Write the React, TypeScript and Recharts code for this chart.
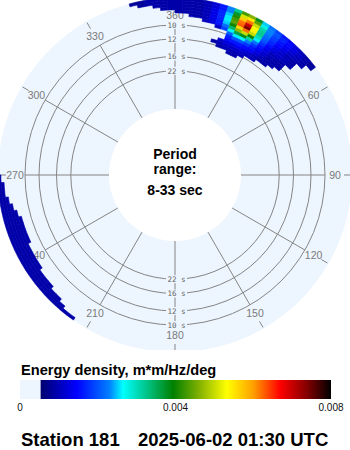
import React from "react"
import { PieChart, Pie, Cell, RadarChart, PolarGrid, PolarAngleAxis, PolarRadiusAxis } from "recharts"

const CX = 175
const CY = 175
const R_IN = 66 // 33 s
const R_GRID = 150 // 10 s
const LIGHT = "#edf5fe"
const GRID = "#858585"
const FONT = "'Liberation Sans', Arial, sans-serif"

// compass labels, clockwise from north
const directions = ["360", "30", "60", "90", "120", "150", "180", "210", "240", "270", "300", "330"]
// period rings (s)
const periodTicks = [22, 16, 12, 10]
const periodRange = [8, 33]

// frequency edges of the spectral bands (Hz), outer ring first
const bandEdges = [0.1225, 0.12, 0.1175, 0.115, 0.1125, 0.11, 0.1075, 0.105, 0.1025, 0.1, 0.0975, 0.095, 0.0925, 0.09, 0.0875, 0.085]
const DIR_STEP = 2.5

// energy density in 1e-4 m*m/Hz/deg, one row per band, columns every 2.5 deg
const neStart = 345
const neEnergy = [
  [8, 8, 9, 9, 9, 9, 9, 9, 9, 9, 10, 12, 16, 23, 32, 43, 46, 38, 25, 22, 19, 16, 14, 12, 10, 9, 8],
  [0, 8, 9, 9, 9, 9, 9, 9, 9, 9, 10, 12, 16, 23, 37, 51, 55, 44, 28, 23, 20, 17, 15, 13, 11, 9, 8],
  [0, 0, 0, 9, 9, 9, 9, 9, 9, 9, 10, 13, 17, 25, 41, 57, 62, 50, 31, 23, 19, 16, 14, 12, 10, 9, 0],
  [0, 0, 0, 0, 9, 9, 9, 9, 9, 9, 10, 13, 17, 26, 43, 62, 70, 53, 32, 22, 18, 15, 13, 11, 10, 9, 0],
  [0, 0, 0, 0, 0, 0, 9, 9, 9, 9, 10, 13, 17, 26, 44, 63, 74, 54, 32, 21, 17, 14, 12, 10, 9, 0, 0],
  [0, 0, 0, 0, 0, 0, 0, 0, 9, 9, 10, 13, 16, 25, 40, 56, 62, 50, 30, 20, 16, 13, 11, 10, 9, 0, 0],
  [0, 0, 0, 0, 0, 0, 0, 0, 0, 0, 10, 12, 16, 22, 34, 47, 50, 40, 26, 18, 14, 12, 11, 10, 9, 0, 0],
  [0, 0, 0, 0, 0, 0, 0, 0, 0, 0, 0, 0, 11, 19, 27, 36, 38, 31, 22, 16, 13, 10, 10, 9, 0, 0, 0],
  [0, 0, 0, 0, 0, 0, 0, 0, 0, 0, 0, 0, 0, 0, 21, 26, 27, 23, 18, 15, 12, 10, 9, 9, 0, 0, 0],
  [0, 0, 0, 0, 0, 0, 0, 0, 0, 0, 0, 0, 0, 0, 17, 20, 20, 18, 16, 13, 11, 9, 9, 9, 0, 0, 0],
  [0, 0, 0, 0, 0, 0, 0, 0, 0, 0, 0, 0, 0, 0, 15, 16, 16, 15, 14, 12, 10, 9, 9, 0, 0, 0, 0],
  [0, 0, 0, 0, 0, 0, 0, 0, 0, 0, 0, 0, 0, 11, 13, 13, 14, 13, 12, 10, 9, 9, 0, 0, 0, 0, 0],
  [0, 0, 0, 0, 0, 0, 0, 0, 0, 0, 0, 0, 9, 10, 11, 11, 11, 11, 10, 10, 0, 0, 0, 0, 0, 0, 0],
  [0, 0, 0, 0, 0, 0, 0, 0, 0, 0, 0, 0, 0, 9, 10, 10, 10, 10, 0, 0, 0, 0, 0, 0, 0, 0, 0],
  [0, 0, 0, 0, 0, 0, 0, 0, 0, 0, 0, 0, 0, 0, 0, 9, 9, 0, 0, 0, 0, 0, 0, 0, 0, 0, 0],
]
const swStart = 215
const swEnergy = [
  [9, 9, 9, 9, 9, 9, 9, 9, 9, 9, 9, 9, 9, 9, 9, 9, 9, 9, 9, 9, 9, 9],
  [0, 0, 9, 9, 9, 9, 9, 9, 9, 9, 9, 9, 9, 9, 9, 9, 9, 9, 9, 9, 9, 0],
  [0, 0, 0, 9, 9, 9, 9, 9, 9, 9, 9, 9, 9, 9, 9, 9, 9, 9, 9, 0, 0, 0],
  [0, 0, 0, 0, 0, 9, 9, 9, 9, 9, 9, 9, 9, 9, 9, 9, 9, 9, 0, 0, 0, 0],
  [0, 0, 0, 0, 0, 0, 0, 0, 9, 9, 9, 9, 9, 9, 9, 9, 9, 0, 0, 0, 0, 0],
  [0, 0, 0, 0, 0, 0, 0, 0, 0, 0, 0, 0, 9, 9, 9, 9, 0, 0, 0, 0, 0, 0],
]

// colour scale, same units
const SCALE_MAX = 80
const scaleStops = [5.3, 14.6, 23, 26.5, 33, 39.4, 46, 53.2, 60, 66.9, 74, 80]
const scaleColors = ["#000070", "#0000ff", "#0080ff", "#00ffff", "#00c080", "#008000", "#80b000", "#ffff00", "#ffa000", "#ff0000", "#800000", "#000000"]
const scaleTicks = [0, 0.004, 0.008]

const station = "Station 181"
const stamp = "2025-06-02 01:30 UTC"

const fLow = 1 / periodRange[1]
const fGrid = 1 / periodTicks[periodTicks.length - 1]
const toRadius = (f: number) => R_IN + ((f - fLow) / (fGrid - fLow)) * (R_GRID - R_IN)
const R_OUT = toRadius(bandEdges[0])

const rgb = (h: string) => [1, 3, 5].map((i) => parseInt(h.slice(i, i + 2), 16))
function energyColor(v: number) {
  if (v <= scaleStops[0]) return scaleColors[0]
  for (let i = 1; i < scaleStops.length; i++) {
    if (v <= scaleStops[i]) {
      const t = (v - scaleStops[i - 1]) / (scaleStops[i] - scaleStops[i - 1])
      const a = rgb(scaleColors[i - 1])
      const b = rgb(scaleColors[i])
      return `rgb(${a.map((c, k) => Math.round(c + (b[k] - c) * t)).join(",")})`
    }
  }
  return scaleColors[scaleColors.length - 1]
}

const BIN_COUNT = 360 / DIR_STEP
const rings = bandEdges.slice(0, -1).map((outerF, j) => {
  const energy = new Array(BIN_COUNT).fill(0)
  const place = (start: number, rows: number[][]) =>
    (rows[j] || []).forEach((v, k) => {
      energy[(start / DIR_STEP + k) % BIN_COUNT] = v
    })
  place(neStart, neEnergy)
  place(swStart, swEnergy)
  return {
    outer: toRadius(outerF),
    inner: toRadius(bandEdges[j + 1]),
    bins: energy.map((e, i) => ({ dir: i * DIR_STEP, span: DIR_STEP, energy: e })),
  }
})

const angleRows = directions.map((label) => ({ label }))
const noMargin = { top: 0, right: 0, bottom: 0, left: 0 }

function AngleTick(props: any) {
  const { payload } = props
  const a = (payload.coordinate * Math.PI) / 180
  const at = (r: number) => [CX + r * Math.cos(a), CY - r * Math.sin(a)]
  const [lx, ly] = at(160)
  const [x1, y1] = at(169)
  const [x2, y2] = at(176)
  return (
    <g>
      <line x1={x1} y1={y1} x2={x2} y2={y2} stroke={GRID} strokeWidth={1} />
      <text x={lx} y={ly} dy="0.36em" textAnchor="middle" fontSize={10.5} fontFamily={FONT} fill="#7a7a7a">
        {payload.value}
      </text>
    </g>
  )
}

function PeriodTick(props: any) {
  const { x, y, payload } = props
  const label = `${Math.round(1 / payload.value)} s`
  return (
    <g>
      {[y, 2 * CY - y].map((yy: number, i: number) => (
        <g key={i}>
          <rect x={x - 9} y={yy - 4} width={21} height={8} fill={LIGHT} />
          <text x={x + 1.5} y={yy} dy="0.36em" textAnchor="middle" fontSize={7.5} fontFamily="'DejaVu Sans Mono', monospace" fill="#666">
            {label}
          </text>
        </g>
      ))}
    </g>
  )
}

const layer: React.CSSProperties = { position: "absolute", left: 0, top: 0 }

export default function App() {
  const barX = 20
  const barW = 311
  const zeroW = (barW * scaleStops[0]) / SCALE_MAX
  return (
    <div style={{ position: "absolute", left: 0, top: 0, width: 350, height: 450, background: "#fff", fontFamily: FONT }}>
      <div style={layer}>
        <PieChart width={350} height={350} margin={noMargin}>
          <Pie
            data={[{ span: 360 }]}
            dataKey="span"
            cx={CX}
            cy={CY}
            innerRadius={R_IN}
            outerRadius={R_OUT}
            startAngle={90}
            endAngle={-270}
            fill={LIGHT}
            stroke="none"
            isAnimationActive={false}
          />
        </PieChart>
      </div>

      <div style={layer}>
        <RadarChart
          width={350}
          height={350}
          cx={CX}
          cy={CY}
          innerRadius={R_IN}
          outerRadius={R_GRID}
          startAngle={90}
          endAngle={-270}
          data={angleRows}
          margin={noMargin}
        >
          <PolarGrid gridType="circle" stroke={GRID} strokeOpacity={1} />
          <PolarAngleAxis dataKey="label" axisLine={false} tickLine={false} tick={AngleTick} />
          <PolarRadiusAxis
            type="number"
            angle={90}
            domain={[fLow, fGrid]}
            allowDataOverflow
            ticks={periodTicks.map((p) => 1 / p)}
            axisLine={false}
            tickLine={false}
            tick={PeriodTick}
          />
        </RadarChart>
      </div>

      <div style={layer}>
        <PieChart width={350} height={350} margin={noMargin}>
          {rings.map((ring, j) => (
            <Pie
              key={j}
              data={ring.bins}
              dataKey="span"
              cx={CX}
              cy={CY}
              innerRadius={ring.inner}
              outerRadius={ring.outer}
              startAngle={90}
              endAngle={-270}
              stroke="none"
              isAnimationActive={false}
            >
              {ring.bins.map((b, i) => {
                const c = b.energy > 0 ? energyColor(b.energy) : "none"
                return <Cell key={i} fill={c} stroke={c} strokeWidth={b.energy > 0 ? 0.6 : 0} />
              })}
            </Pie>
          ))}
        </PieChart>
      </div>

      <svg width={350} height={450} style={{ ...layer, pointerEvents: "none" }}>
        <defs>
          <linearGradient id="energyScale" x1="0" x2="1" y1="0" y2="0">
            {scaleStops.map((s, i) => (
              <stop key={i} offset={(s - scaleStops[0]) / (SCALE_MAX - scaleStops[0])} stopColor={scaleColors[i]} />
            ))}
          </linearGradient>
        </defs>
        <g fontFamily={FONT} fontWeight="bold" fontSize={14} textAnchor="middle" fill="#000">
          <text x={CX} y={159}>Period</text>
          <text x={CX} y={174}>range:</text>
          <text x={CX} y={195}>{`${periodRange[0]}-${periodRange[1]} sec`}</text>
        </g>
        <text x={21} y={375} fontFamily={FONT} fontWeight="bold" fontSize={14.6}>
          Energy density, m*m/Hz/deg
        </text>
        <rect x={barX} y={380} width={zeroW} height={19} fill={LIGHT} />
        <rect x={barX + zeroW} y={380} width={barW - zeroW} height={19} fill="url(#energyScale)" />
        {scaleTicks.map((t) => (
          <text key={t} x={barX + (t / (SCALE_MAX / 10000)) * barW} y={411} textAnchor="middle" fontFamily={FONT} fontSize={10} fill="#111">
            {String(t)}
          </text>
        ))}
        <text x={21} y={446} fontFamily={FONT} fontWeight="bold" fontSize={18.5}>
          {station}
        </text>
        <text x={138} y={446} fontFamily={FONT} fontWeight="bold" fontSize={18.5}>
          {stamp}
        </text>
      </svg>
    </div>
  )
}
